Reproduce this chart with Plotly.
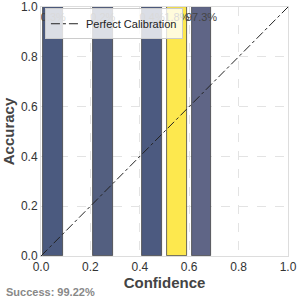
import plotly.graph_objects as go

bin_centers = [0.05, 0.25, 0.45, 0.55, 0.65]
accuracy = [1.0, 1.0, 1.0, 1.0, 1.0]
sample_pct = ["0.3%", "0.2%", "0.4%", "1.8%", "97.3%"]
bar_colors = ["#4b5a7f", "#535f80", "#4c5a80", "#fde84e", "#5f6586"]
diag_x = [0.0, 1.0]
diag_y = [0.0, 1.0]
tick_vals = [0.0, 0.2, 0.4, 0.6, 0.8, 1.0]
success_text = "Success: 99.22%"

FONT = "Liberation Sans, Arial"

fig = go.Figure()
fig.add_trace(go.Bar(
    x=bin_centers, y=accuracy, width=0.08,
    marker=dict(color=bar_colors, line=dict(color="#444444", width=0.8)),
    showlegend=False, hoverinfo="skip",
))
fig.add_trace(go.Scatter(
    x=bin_centers, y=[0.955] * len(bin_centers), mode="text",
    text=sample_pct, textfont=dict(size=11, color="#444444", family=FONT),
    showlegend=False, hoverinfo="skip",
))
fig.add_trace(go.Scatter(
    x=diag_x, y=diag_y, mode="lines", name="Perfect Calibration",
    line=dict(color="#222222", width=1, dash="dashdot"),
))

axis_common = dict(
    range=[0, 1], tickvals=tick_vals, tickformat=".1f",
    showgrid=True, gridcolor="#e3e3e3", griddash="dash", gridwidth=1,
    showline=True, mirror=True, linecolor="#dddddd", linewidth=1,
    zeroline=False, ticks="", automargin=False, ticklabeloverflow="allow",
    tickfont=dict(size=12, color="#333333", family=FONT),
)
fig.update_xaxes(**axis_common, title=dict(text="<b>Confidence</b>", font=dict(size=15, color="#444444", family=FONT), standoff=2))
fig.update_yaxes(**axis_common, title=dict(text="<b>Accuracy</b>", font=dict(size=15, color="#444444", family=FONT), standoff=4))

fig.add_annotation(
    text="<b>" + success_text + "</b>", xref="paper", yref="paper",
    x=-0.15, y=-0.144, xanchor="left", yanchor="middle", showarrow=False,
    font=dict(size=11, color="#888888", family=FONT),
)

fig.update_layout(
    width=297, height=298,
    margin=dict(l=41, r=9, t=7, b=42, autoexpand=False),
    paper_bgcolor="white", plot_bgcolor="white",
    bargap=0,
    legend=dict(x=0.016, y=0.995, xanchor="left", yanchor="top",
                bgcolor="rgba(255,255,255,0.8)", bordercolor="#cccccc", borderwidth=1,
                font=dict(size=11, color="#222222", family=FONT),
                itemwidth=30, tracegroupgap=0),
)
fig.write_html("out.html", config={"displayModeBar": False},
               post_script="document.body.style.margin='0';document.body.style.overflow='hidden';")
